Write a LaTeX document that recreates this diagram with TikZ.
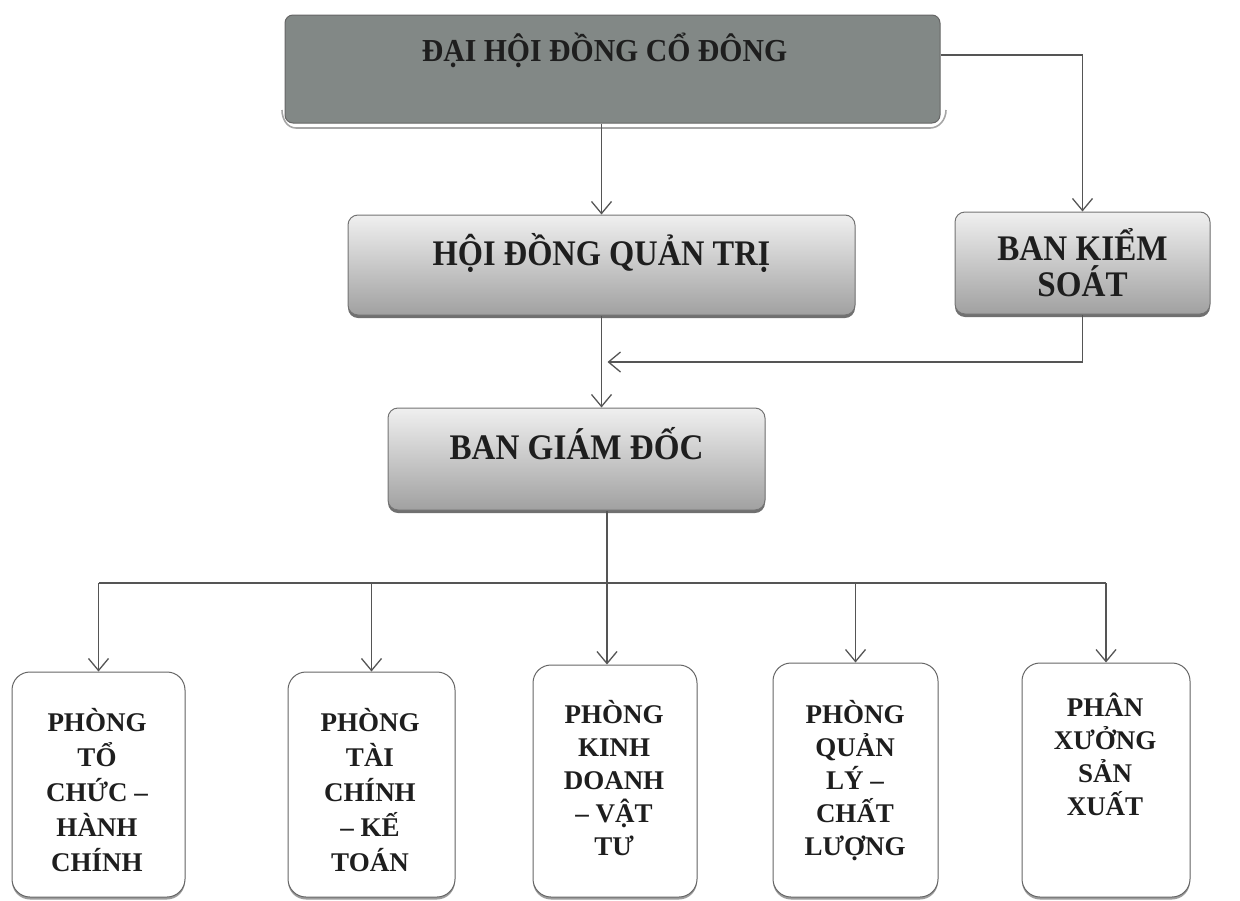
\documentclass[tikz,border=0pt]{standalone}
\usepackage{fontspec}
\setmainfont{Liberation Serif}
\usepackage{graphicx}
\usetikzlibrary{arrows.meta,shadows,calc}
\definecolor{linec}{HTML}{555555}
\definecolor{txt}{HTML}{1E1E1E}
\definecolor{topfill}{HTML}{828886}
\tikzset{
  conn/.style={draw=linec, line width=1.3pt},
  arr/.style={conn, -{Straight Barb[length=12pt,width=20pt,line width=1.3pt]}},
  topbox/.style={draw=black!60, line width=1pt, rounded corners=8pt, fill=topfill, inner sep=0pt},
  midbox/.style={draw=black!55, line width=1pt, rounded corners=10pt, top color=black!6, bottom color=black!37,
     drop shadow={shadow xshift=0pt, shadow yshift=-3pt, fill=black!70, opacity=0.8}, inner sep=0pt, text=txt,
     font=\bfseries\fontsize{36}{40}\selectfont, align=center},
  lowbox/.style={draw=black!60, line width=1pt, rounded corners=18pt, fill=white,
     drop shadow={shadow xshift=0pt, shadow yshift=-2.5pt, fill=black!55, opacity=0.7}, inner sep=0pt},
  lowtext/.style={text=txt, font=\bfseries\fontsize{27}{35}\selectfont, align=center, anchor=north, inner sep=0pt},
}
\begin{document}
\begin{tikzpicture}[x=1pt,y=1pt]
\useasboundingbox (0,0) rectangle (1240,-900);
% top box
\draw[black!35, line width=1.6pt] (282,-110) to[out=-90,in=180] (296,-128) -- (930,-128) to[out=0,in=-90] (946,-110);
\node[topbox, minimum width=655pt, minimum height=108pt, text=txt,
      font=\bfseries\fontsize{32}{36}\selectfont, text height=10pt, text depth=26pt] (dh) at (612.5,-69) {\scalebox{0.93}[1]{ĐẠI HỘI ĐỒNG CỔ ĐÔNG}\hspace*{16pt}};
% middle boxes
\node[midbox, minimum width=507pt, minimum height=100pt, text height=16pt, text depth=16pt] (hd) at (601.5,-265) {\scalebox{0.9}[1]{HỘI ĐỒNG QUẢN TRỊ}};
\node[midbox, minimum width=255pt, minimum height=102pt] (ks) at (1082.5,-263) {\scalebox{0.92}[1]{BAN KIỂM}\\[-4pt]\scalebox{0.92}[1]{SOÁT}};
\node[midbox, minimum width=377pt, minimum height=102pt, text height=16pt, text depth=16pt] (gd) at (576.5,-459) {\scalebox{0.92}[1]{BAN GIÁM ĐỐC}};
% lower boxes
\node[lowbox, minimum width=173pt, minimum height=225pt] (p1) at (98.5,-784.5) {};
\node[lowbox, minimum width=167pt, minimum height=225pt] (p2) at (371.5,-784.5) {};
\node[lowbox, minimum width=164pt, minimum height=232pt] (p3) at (615,-781) {};
\node[lowbox, minimum width=165pt, minimum height=234pt] (p4) at (855.5,-780) {};
\node[lowbox, minimum width=168pt, minimum height=234pt] (p5) at (1106,-780) {};
\node[lowtext] (t1) at (97,-708) {PHÒNG\\TỔ\\CHỨC –\\HÀNH\\CHÍNH};
\node[lowtext] (t2) at (370,-708) {PHÒNG\\TÀI\\CHÍNH\\– KẾ\\TOÁN};
\node[lowtext, font=\bfseries\fontsize{27}{33}\selectfont] (t3) at (614,-700) {PHÒNG\\KINH\\DOANH\\– VẬT\\TƯ};
\node[lowtext, font=\bfseries\fontsize{27}{33}\selectfont] (t4) at (855,-700) {PHÒNG\\QUẢN\\LÝ –\\CHẤT\\LƯỢNG};
\node[lowtext, font=\bfseries\fontsize{27}{33}\selectfont] (t5) at (1105,-693) {PHÂN\\XƯỞNG\\SẢN\\XUẤT};
% connectors
\coordinate (bus) at (607,-583);
\coordinate (jn) at (601.5,-362);
\draw[arr] (hd.north |- dh.south) -- (hd.north);
\draw[arr] ([yshift=14pt]dh.east) -| (ks.north);
\draw[arr] (hd.south) -- (hd.south |- gd.north);
\draw[arr] (ks.south) |- ([xshift=6pt]jn);
\draw[conn] (bus |- gd.south) -- (bus);
\draw[conn] (p1.north |- bus) -- (p5.north |- bus);
\draw[arr] (bus) -- (bus |- p3.north);
\foreach \n in {p1,p2,p4,p5}{\draw[arr] (\n.north |- bus) -- (\n.north);}
\end{tikzpicture}
\end{document}
